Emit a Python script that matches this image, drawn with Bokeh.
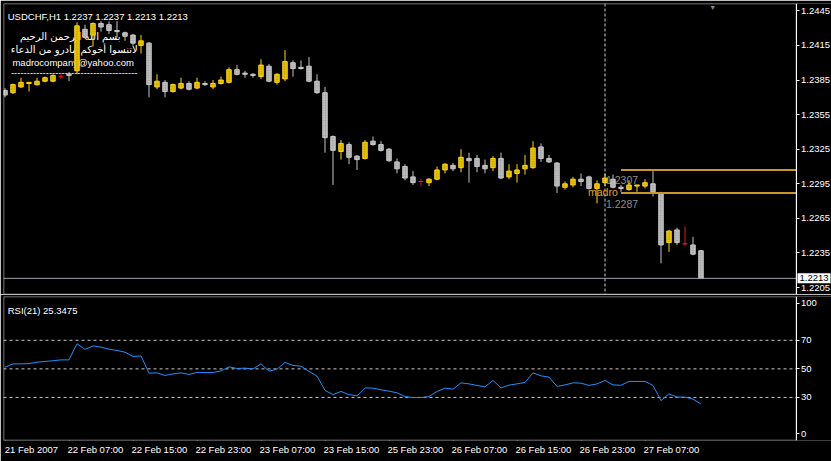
from bokeh.plotting import figure
from bokeh.layouts import column
from bokeh.models import (ColumnDataSource, Range1d, FixedTicker, NumeralTickFormatter,
                          Span, Label, LinearAxis, BoxAnnotation)
from bokeh.embed import file_html
from bokeh.resources import INLINE

# ---------------- data (USDCHF, H1) ----------------
opens = [1.2376, 1.2374, 1.2379, 1.2382, 1.2381, 1.2384, 1.2384, 1.2388, 1.2390, 1.2393,
         1.2429, 1.2424, 1.2434, 1.2433, 1.2428, 1.2426, 1.2424, 1.2415, 1.2417, 1.2379,
         1.2383, 1.2375, 1.2378, 1.2382, 1.2378, 1.2382, 1.2379, 1.2382, 1.2383, 1.2394,
         1.2391, 1.2390, 1.2388, 1.2397, 1.2383, 1.2386, 1.2400, 1.2396, 1.2397, 1.2384,
         1.2374, 1.2336, 1.2323, 1.2329, 1.2319, 1.2317, 1.2332, 1.2329, 1.2325, 1.2314,
         1.2310, 1.2301, 1.2297, 1.2296, 1.2299, 1.2307, 1.2311, 1.2309, 1.2317, 1.2317,
         1.2311, 1.2309, 1.2317, 1.2301, 1.2304, 1.2308, 1.2309, 1.2327, 1.2317, 1.2313,
         1.2292, 1.2294, 1.2299, 1.2301, 1.2291, 1.2296, 1.2299, 1.2292, 1.2290, 1.2293,
         1.2293, 1.2295, 1.2287, 1.2244, 1.2255, 1.2243, 1.2242, 1.2237]
highs = [1.2378, 1.2382, 1.2387, 1.2383, 1.2387, 1.2388, 1.2390, 1.2391, 1.2392, 1.2435,
         1.2433, 1.2435, 1.2436, 1.2436, 1.2436, 1.2427, 1.2425, 1.2424, 1.2418, 1.2390,
         1.2385, 1.2382, 1.2387, 1.2384, 1.2387, 1.2384, 1.2385, 1.2388, 1.2396, 1.2398,
         1.2393, 1.2391, 1.2403, 1.2399, 1.2391, 1.2411, 1.2402, 1.2402, 1.2405, 1.2390,
         1.2379, 1.2337, 1.2333, 1.2331, 1.2320, 1.2333, 1.2336, 1.2332, 1.2326, 1.2317,
         1.2312, 1.2306, 1.2299, 1.2300, 1.2310, 1.2313, 1.2313, 1.2325, 1.2322, 1.2320,
         1.2316, 1.2319, 1.2322, 1.2312, 1.2312, 1.2320, 1.2332, 1.2330, 1.2320, 1.2314,
         1.2297, 1.2301, 1.2304, 1.2302, 1.2298, 1.2304, 1.2303, 1.2294, 1.2298, 1.2294,
         1.2299, 1.2306, 1.2288, 1.2255, 1.2257, 1.2258, 1.2249, 1.2237]
lows = [1.2370, 1.2373, 1.2378, 1.2375, 1.2380, 1.2383, 1.2383, 1.2386, 1.2384, 1.2390,
        1.2421, 1.2414, 1.2427, 1.2425, 1.2422, 1.2419, 1.2415, 1.2408, 1.2370, 1.2377,
        1.2370, 1.2374, 1.2377, 1.2376, 1.2377, 1.2380, 1.2377, 1.2381, 1.2382, 1.2389,
        1.2387, 1.2387, 1.2386, 1.2383, 1.2381, 1.2384, 1.2388, 1.2394, 1.2383, 1.2373,
        1.2322, 1.2294, 1.2316, 1.2312, 1.2307, 1.2316, 1.2328, 1.2323, 1.2314, 1.2304,
        1.2298, 1.2294, 1.2293, 1.2293, 1.2298, 1.2304, 1.2306, 1.2305, 1.2296, 1.2305,
        1.2304, 1.2306, 1.2299, 1.2299, 1.2296, 1.2303, 1.2308, 1.2314, 1.2313, 1.2287,
        1.2290, 1.2292, 1.2293, 1.2290, 1.2278, 1.2293, 1.2291, 1.2288, 1.2289, 1.2288,
        1.2291, 1.2284, 1.2226, 1.2236, 1.2242, 1.2241, 1.2233, 1.2213]
closes = [1.2372, 1.2381, 1.2383, 1.2383, 1.2384, 1.2387, 1.2389, 1.2388, 1.2389, 1.2432,
          1.2422, 1.2434, 1.2431, 1.2428, 1.2427, 1.2423, 1.2417, 1.2419, 1.2381, 1.2384,
          1.2375, 1.2381, 1.2382, 1.2377, 1.2383, 1.2381, 1.2382, 1.2385, 1.2394, 1.2390,
          1.2390, 1.2389, 1.2398, 1.2384, 1.2390, 1.2401, 1.2395, 1.2395, 1.2384, 1.2374,
          1.2335, 1.2324, 1.2330, 1.2318, 1.2316, 1.2331, 1.2329, 1.2324, 1.2315, 1.2308,
          1.2300, 1.2296, 1.2297, 1.2299, 1.2307, 1.2312, 1.2308, 1.2318, 1.2315, 1.2310,
          1.2308, 1.2317, 1.2300, 1.2306, 1.2307, 1.2311, 1.2326, 1.2317, 1.2314, 1.2293,
          1.2295, 1.2299, 1.2297, 1.2291, 1.2295, 1.2300, 1.2292, 1.2291, 1.2294, 1.2294,
          1.2296, 1.2288, 1.2242, 1.2254, 1.2244, 1.2243, 1.2234, 1.2213]
rsi = [51.2, 53.5, 53.5, 53.7, 54.7, 55.2, 55.7, 56.3, 56.3, 67.6,
       63.6, 66.1, 65.2, 63.8, 62.9, 61.7, 58.7, 59.1, 47.0, 47.2,
       45.4, 46.5, 47.2, 46.1, 47.5, 47.5, 47.5, 48.6, 51.4, 50.3,
       50.5, 50.0, 53.5, 48.4, 49.8, 54.5, 52.4, 51.9, 48.2, 44.9,
       34.9, 32.0, 34.2, 32.0, 31.1, 36.7, 36.5, 35.3, 34.4, 33.2,
       30.6, 29.9, 29.9, 30.6, 34.2, 36.5, 35.8, 40.2, 39.5, 38.4,
       37.4, 41.9, 36.7, 38.6, 39.5, 40.5, 47.2, 45.1, 44.2, 37.7,
       38.8, 40.2, 40.0, 38.4, 39.5, 41.9, 38.8, 38.5, 41.2, 41.2,
       41.2, 38.4, 27.8, 32.5, 30.2, 30.2, 28.8, 25.35]

time_tick_bars = [0, 8, 16, 24, 32, 40, 48, 56, 64, 72, 80]
time_tick_labels = ["21 Feb 2007", "22 Feb 07:00", "22 Feb 15:00", "22 Feb 23:00",
                    "23 Feb 07:00", "23 Feb 15:00", "25 Feb 23:00", "26 Feb 07:00",
                    "26 Feb 15:00", "26 Feb 23:00", "27 Feb 07:00"]
price_ticks = [1.2205, 1.2235, 1.2265, 1.2295, 1.2325, 1.2355, 1.2385, 1.2415, 1.2445]
rsi_levels = [30, 50, 70]
rsi_tick_values = [4.7, 30, 50, 70, 96.0]
rsi_tick_labels = ["0", "30", "50", "70", "100"]

channel_prices = [1.2307, 1.2287]
channel_start_bar = 77
marker_bar = 75
last_price = 1.2213

title_text = "USDCHF,H1  1.2237 1.2237 1.2213 1.2213"
rsi_text = "RSI(21) 25.3475"
note_lines = ["بسم الله الرحمن الرحيم",
              "لاتنسوا أخوكم مادرو من الدعاء",
              "madrocompany@yahoo.com",
              "-" * 40]

FONT = "Liberation Sans"
BULL, DOJI = "#FFD700", "#E01818"

# ---------------- geometry of the panes ----------------
X0, X1 = -0.1875, 103.3125          # visible bar range (8 px per bar)
AXIS_X = 98.875                     # where the price/RSI scale sits (right edge of chart)
HALF_PX_X = 0.0625
P0, P1 = 1.219899, 1.245138         # price pane range
HALF_PX_P = 0.5 / 11530
R0, R1 = -0.175, 100.7              # RSI pane range
HALF_PX_R = 0.5 / 1.4275

# ---------------- derived columns ----------------
n = len(opens)
xs = list(range(n))
kinds = ["bull" if c > o else ("bear" if c < o else "doji") for o, c in zip(opens, closes)]
body_fill = [{"bull": "#E8C200", "bear": "#A8A8A8", "doji": DOJI}[k] for k in kinds]
body_line = [{"bull": BULL, "bear": "#C8C8C8", "doji": DOJI}[k] for k in kinds]
hatch_col = [{"bull": "#9C8000", "bear": "#EAEAEA", "doji": DOJI}[k] for k in kinds]
wick_col = [{"bull": BULL, "bear": "#C4C4C4", "doji": DOJI}[k] for k in kinds]
src = ColumnDataSource(dict(
    x=xs, high=highs, low=lows,
    top=[max(o, c) for o, c in zip(opens, closes)],
    bottom=[min(o, c) for o, c in zip(opens, closes)],
    fill=body_fill, line=body_line, hatch=hatch_col, wick=wick_col,
))

x_range = Range1d(X0, X1)


def style_scale(ax):
    ax.fixed_location = AXIS_X
    ax.major_label_text_color = "white"
    ax.major_label_text_font = FONT
    ax.major_label_text_font_size = "9.5px"
    ax.major_tick_line_color = "white"
    ax.major_tick_out = 3
    ax.major_tick_in = 0
    ax.minor_tick_line_color = None
    ax.axis_line_color = "white"
    ax.major_label_standoff = 2


# ---------------- price pane ----------------
p = figure(width=831, height=294, x_range=x_range, y_range=Range1d(P0, P1),
           output_backend="svg", toolbar_location=None,
           y_axis_location="right", x_axis_location=None,
           background_fill_color="black", border_fill_color="black",
           outline_line_color=None,
           min_border_left=3, min_border_right=0, min_border_top=3, min_border_bottom=0)
p.grid.visible = False

p.add_layout(BoxAnnotation(left=X0 + HALF_PX_X, right=AXIS_X, bottom=P0 + HALF_PX_P,
                           top=P1 - HALF_PX_P, fill_alpha=0, line_color="white",
                           line_width=1))

# chart texts lie beneath the candles, as on the source chart
for txt, yy in [("%.4f" % channel_prices[0], 1.22985), ("%.4f" % channel_prices[1], 1.227765)]:
    p.add_layout(Label(x=marker_bar, y=yy, text=txt, text_color="#8C8C8C",
                       text_font=FONT, text_font_size="10.5px", level="underlay",
                       text_align="left", text_baseline="alphabetic", x_offset=1))
note_pos = [(8.15, 1.242275, "DejaVu Sans", "10px"),
            (8.65, 1.241174, "DejaVu Sans", "10px"),
            (8.53, 1.240020, FONT, "9.5px"),
            (8.65, 1.239110, FONT, "9.5px")]
for txt, (xx, yy, fnt, fs) in zip(note_lines, note_pos):
    p.add_layout(Label(x=xx, y=yy, text=txt, text_color="white", text_font=fnt,
                       text_font_size=fs, text_align="center", text_baseline="alphabetic",
                       level="underlay"))

p.segment(x0="x", y0="low", x1="x", y1="high", line_color="wick", line_width=1, source=src)
p.vbar(x="x", width=0.56, top="top", bottom="bottom", fill_color="fill", line_color="line",
       hatch_pattern="dot", hatch_color="hatch", hatch_scale=2.5, hatch_weight=1,
       line_width=1, source=src)

p.segment(x0=[X0], x1=[AXIS_X], y0=[last_price], y1=[last_price],
          line_color="#9EA0A8", line_width=1)
p.add_layout(Span(location=marker_bar, dimension="height", line_color="#C8C8C8",
                  line_width=1, line_dash="3 2"))
p.segment(x0=[channel_start_bar] * len(channel_prices), x1=[AXIS_X] * len(channel_prices),
          y0=channel_prices, y1=channel_prices, line_color="#C9962A", line_width=2)

p.add_layout(Label(x=76.6, y=1.22877, text="madro", text_color="#E6A020",
                   text_font=FONT, text_font_size="10.5px",
                   text_align="right", text_baseline="alphabetic"))

p.add_layout(Label(x=0.34, y=1.24401, text=title_text, text_color="white",
                   text_font=FONT, text_font_size="9.5px",
                   text_align="left", text_baseline="alphabetic"))

p.add_layout(Label(x=88.46, y=P1, text="▼", text_color="#8A8A8A",
                   text_font_size="7px", text_align="center", text_baseline="top"))

ya = p.yaxis[0]
ya.ticker = FixedTicker(ticks=price_ticks)
ya.formatter = NumeralTickFormatter(format="0.0000")
style_scale(ya)

# current-price box on the price scale
p.add_layout(Label(x=AXIS_X + 3 * HALF_PX_X, y=last_price, text="%.4f" % last_price,
                   text_color="black", text_font=FONT, text_font_size="9.5px",
                   text_align="left", text_baseline="middle",
                   background_fill_color="white", padding=2))

# ---------------- RSI pane ----------------
r = figure(width=831, height=167, x_range=x_range, y_range=Range1d(R0, R1),
           output_backend="svg", toolbar_location=None,
           y_axis_location="right", x_axis_location="below",
           background_fill_color="black", border_fill_color="black",
           outline_line_color=None,
           min_border_left=3, min_border_right=0, min_border_top=2, min_border_bottom=21)
r.grid.visible = False
r.add_layout(BoxAnnotation(left=X0 + HALF_PX_X, right=AXIS_X, bottom=R0 + HALF_PX_R,
                           top=R1 - HALF_PX_R, fill_alpha=0, line_color="white",
                           line_width=1))
r.segment(x0=[X0] * len(rsi_levels), x1=[AXIS_X] * len(rsi_levels),
          y0=rsi_levels, y1=rsi_levels, line_color="#C8C8C8", line_width=1, line_dash="3 3")
r.line(xs, rsi, line_color="#1E90FF", line_width=1)
r.add_layout(Label(x=0.34, y=90.9, text=rsi_text, text_color="white",
                   text_font=FONT, text_font_size="9.5px",
                   text_align="left", text_baseline="alphabetic"))

ry = r.yaxis[0]
ry.ticker = FixedTicker(ticks=rsi_tick_values)
ry.major_label_overrides = dict(zip(rsi_tick_values, rsi_tick_labels))
style_scale(ry)

# time labels: drawn to the right of their tick, as on the source chart
label_shift = 3.3
label_ticks = [b + label_shift for b in time_tick_bars]
rx = r.xaxis[0]
rx.ticker = FixedTicker(ticks=label_ticks)
rx.major_label_overrides = dict(zip(label_ticks, time_tick_labels))
rx.major_label_text_color = "white"
rx.major_label_text_font = FONT
rx.major_label_text_font_size = "9.5px"
rx.major_tick_line_color = None
rx.major_tick_out = 3
rx.major_tick_in = 0
rx.minor_tick_line_color = None
rx.axis_line_color = None
rx.major_label_standoff = 0

tick_axis = LinearAxis(fixed_location=R0,
                       ticker=FixedTicker(ticks=time_tick_bars),
                       major_label_overrides={b: "" for b in time_tick_bars},
                       major_tick_line_color="white", major_tick_out=4, major_tick_in=0,
                       minor_tick_line_color=None, axis_line_color=None)
r.add_layout(tick_axis, "below")

layout = column(p, r, spacing=0)
open("out.html", "w").write(file_html(layout, INLINE))
